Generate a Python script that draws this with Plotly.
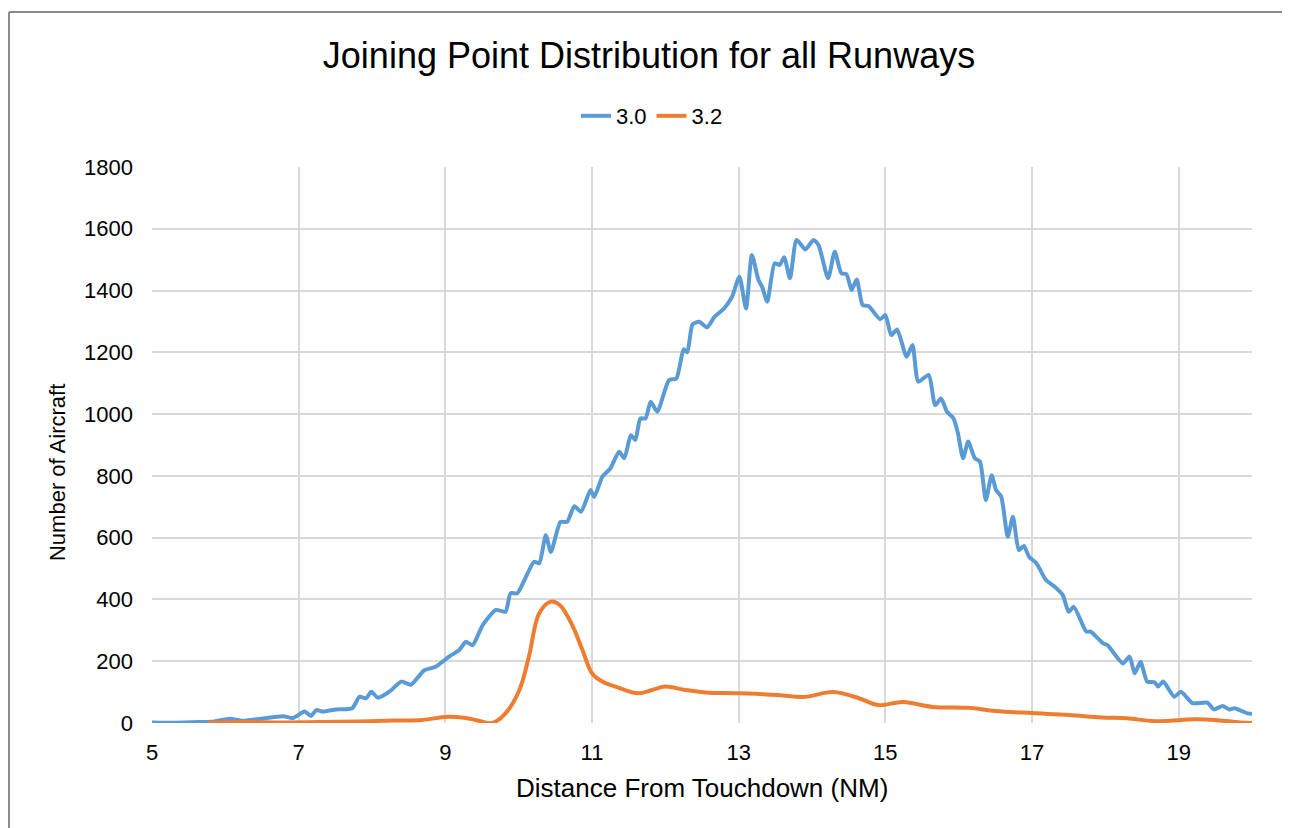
import plotly.graph_objects as go

# series values
x_30 = [5.0, 5.3, 5.65, 5.85, 6.06, 6.24, 6.49, 6.79, 6.92, 7.08, 7.17, 7.24, 7.33, 7.51, 7.73,
        7.83, 7.92, 7.99, 8.08, 8.24, 8.40, 8.53, 8.71, 8.87, 9.05, 9.19, 9.28, 9.37, 9.51, 9.69,
        9.82, 9.89, 9.98, 10.21, 10.28, 10.37, 10.44, 10.57, 10.66, 10.76, 10.85, 10.98, 11.03,
        11.14, 11.25, 11.37, 11.44, 11.53, 11.59, 11.66, 11.73, 11.80, 11.89, 12.05, 12.15, 12.25,
        12.30, 12.37, 12.46, 12.57, 12.67, 12.80, 12.91, 13.01, 13.10, 13.18, 13.27, 13.32, 13.39,
        13.49, 13.56, 13.62, 13.70, 13.79, 13.91, 14.02, 14.09, 14.22, 14.31, 14.40, 14.47, 14.54,
        14.61, 14.69, 14.77, 14.93, 15.00, 15.08, 15.16, 15.29, 15.37, 15.45, 15.59, 15.68, 15.76,
        15.84, 15.93, 15.99, 16.06, 16.13, 16.22, 16.29, 16.37, 16.45, 16.51, 16.58, 16.67, 16.74,
        16.82, 16.89, 16.96, 17.06, 17.19, 17.31, 17.42, 17.50, 17.57, 17.74, 17.80, 17.97, 18.03,
        18.24, 18.33, 18.40, 18.48, 18.57, 18.67, 18.72, 18.79, 18.94, 19.03, 19.12, 19.19, 19.39,
        19.48, 19.60, 19.69, 19.76, 19.94, 20.0]
y_30 = [2, 1, 3, 5, 14, 7, 14, 22, 16, 37, 23, 42, 37, 44, 48,
        85, 80, 101, 82, 102, 134, 124, 170, 182, 215, 236, 263, 252, 317, 366,
        360, 420, 420, 522, 517, 608, 554, 651, 651, 702, 684, 754, 732,
        797, 824, 878, 857, 932, 916, 986, 986, 1040, 1008, 1110, 1115, 1210,
        1200, 1290, 1299, 1281, 1315, 1342, 1380, 1445, 1342, 1515, 1434, 1412, 1364,
        1488, 1483, 1508, 1440, 1564, 1533, 1564, 1547, 1440, 1526, 1456, 1453, 1402,
        1436, 1353, 1350, 1307, 1321, 1256, 1274, 1186, 1224, 1105, 1127, 1029, 1051,
        1008, 986, 938, 857, 911, 857, 846, 722, 802, 754, 733, 603, 668,
        560, 573, 538, 517, 463, 441, 414, 360, 376, 296, 296, 258, 252,
        193, 215, 161, 198, 134, 132, 118, 134, 85, 101, 80, 64, 66,
        44, 55, 44, 48, 31, 30]

x_32 = [5.76, 6.2, 6.8, 7.3, 7.8, 8.3, 8.69, 9.03, 9.28, 9.41, 9.64, 9.82, 10.01, 10.14, 10.28,
        10.44, 10.56, 10.73, 10.87, 11.00, 11.14, 11.32, 11.63, 11.82, 12.00, 12.27, 12.55, 13.0,
        13.54, 13.88, 14.29, 14.63, 14.9, 15.24, 15.65, 16.13, 16.5, 17.0, 17.5, 17.95, 18.3,
        18.67, 19.22, 19.49, 19.84, 20.0]
y_32 = [0, 3, 2, 3, 5, 8, 10, 20, 16, 10, 0, 31, 107, 215, 355,
        393, 382, 317, 236, 161, 134, 118, 96, 107, 118, 107, 99, 96,
        91, 84, 100, 81, 58, 68, 52, 49, 39, 32, 26, 18, 15,
        6, 12, 10, 2, 0]

x_ticks = [5, 7, 9, 11, 13, 15, 17, 19]
y_ticks = [0, 200, 400, 600, 800, 1000, 1200, 1400, 1600, 1800]

fig = go.Figure()
fig.add_trace(go.Scatter(x=x_30, y=y_30, name='3.0', mode='lines',
                         line=dict(color='#5B9BD5', width=4, shape='spline', smoothing=0.6)))
fig.add_trace(go.Scatter(x=x_32, y=y_32, name='3.2', mode='lines',
                         line=dict(color='#ED7D31', width=4, shape='spline', smoothing=1.0)))

font = 'Liberation Sans, Arial, sans-serif'
# page has an 8px body margin, so the figure is a bit smaller than the window
fig.update_layout(
    width=1282, height=820,
    margin=dict(l=144, r=38, t=159, b=105),
    paper_bgcolor='white', plot_bgcolor='white',
    font=dict(family=font, color='black', size=22),
    title=dict(text='Joining Point Distribution for all Runways', x=0.5, xanchor='center',
               y=1 - 47 / 820, yanchor='middle', font=dict(size=36, family=font)),
    legend=dict(orientation='h', x=0.4545, xanchor='center', y=1.0917, yanchor='middle',
                font=dict(size=22), traceorder='normal'),
    xaxis=dict(range=[5, 20], tickvals=x_ticks, showgrid=True, gridcolor='#d9d9d9', gridwidth=2,
               zeroline=False, showline=False, ticks='', tickfont=dict(size=22),
               ticklabelstandoff=14),
    yaxis=dict(range=[0, 1800], tickvals=y_ticks, showgrid=True, gridcolor='#d9d9d9', gridwidth=2,
               zeroline=False, showline=False, ticks='', tickfont=dict(size=22),
               ticklabelstandoff=18),
    showlegend=True,
)

# axis titles
fig.add_annotation(text='Distance From Touchdown (NM)', xref='paper', yref='paper',
                   x=0.5, y=-65 / 556, xanchor='center', yanchor='middle',
                   showarrow=False, font=dict(size=26))
fig.add_annotation(text='Number of Aircraft', xref='paper', yref='paper', textangle=-90,
                   x=-95 / 1100, y=0.4496, xanchor='center', yanchor='middle',
                   showarrow=False, font=dict(size=22))

# outer chart frame (top and left edges visible in the reference)
fig.add_shape(type='line', xref='paper', yref='paper', x0=-0.1300, x1=1.05, y0=1.2788, y1=1.2788,
              line=dict(color='#8c8c8c', width=2))
fig.add_shape(type='line', xref='paper', yref='paper', x0=-0.1300, x1=-0.1300, y0=-0.2, y1=1.2788,
              line=dict(color='#8c8c8c', width=2))

fig.write_html("out.html")
